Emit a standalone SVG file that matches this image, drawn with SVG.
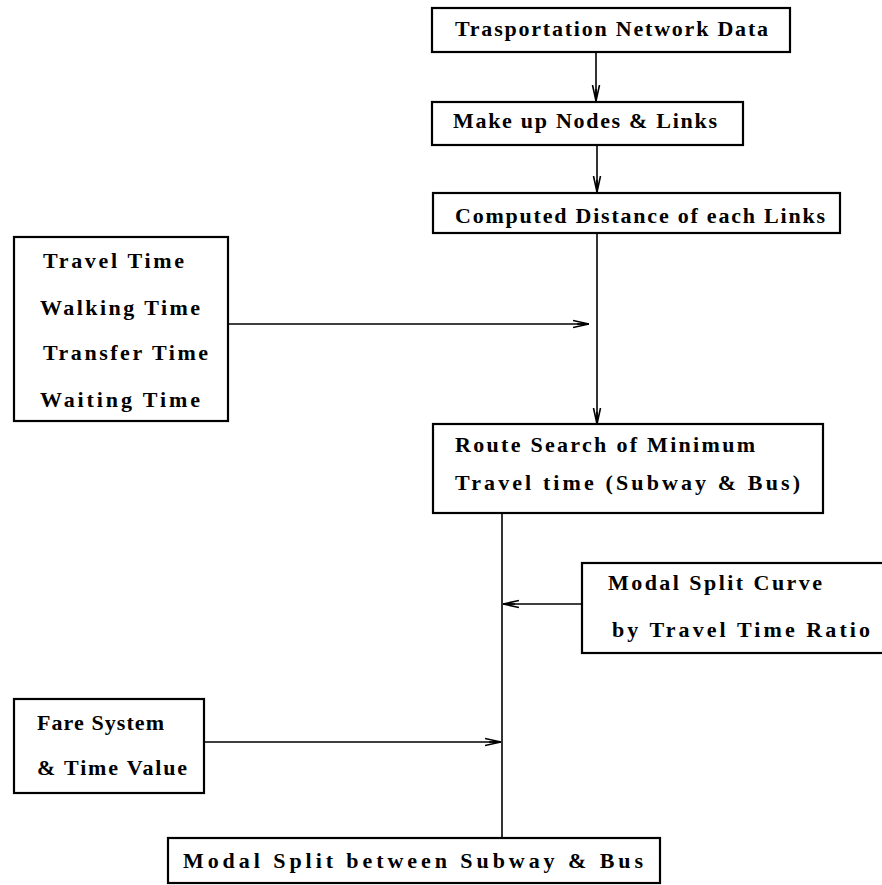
<svg xmlns="http://www.w3.org/2000/svg" width="882" height="885" viewBox="0 0 882 885">
<style>
.box{fill:#fff;stroke:#000;stroke-width:2.2}
.t{font-family:"Liberation Serif","DejaVu Serif",serif;font-weight:bold;font-size:22px;fill:#000}
.c{fill:none;stroke:#000;stroke-width:1.6}
</style>
<defs>
<marker id="ah" viewBox="0 0 16 10" refX="16" refY="5" markerWidth="16" markerHeight="10" markerUnits="userSpaceOnUse" orient="auto">
<path d="M0,1.5 L16,5 L0,8.5 M4,5 L16,5" fill="none" stroke="#000" stroke-width="1.6"/>
</marker>
</defs>
<rect width="882" height="885" fill="#fff"/>
<g id="connectors">
<line class="c" x1="596" y1="52" x2="596" y2="101" marker-end="url(#ah)"/>
<line class="c" x1="597" y1="145" x2="597" y2="192" marker-end="url(#ah)"/>
<line class="c" x1="597" y1="233" x2="597" y2="424" marker-end="url(#ah)"/>
<line class="c" x1="228" y1="324" x2="589" y2="324" marker-end="url(#ah)"/>
<line class="c" x1="502" y1="513" x2="502" y2="838"/>
<line class="c" x1="582" y1="604" x2="503" y2="604" marker-end="url(#ah)"/>
<line class="c" x1="204" y1="742" x2="501" y2="742" marker-end="url(#ah)"/>
</g>
<g id="n1">
<rect class="box" x="432" y="8" width="358" height="44"/>
<text class="t" x="455" y="36" textLength="313" lengthAdjust="spacing">Trasportation Network Data</text>
</g>
<g id="n2">
<rect class="box" x="432" y="102" width="311" height="43"/>
<text class="t" x="453" y="128" textLength="264" lengthAdjust="spacing">Make up Nodes &amp; Links</text>
</g>
<g id="n3">
<rect class="box" x="433" y="193" width="407" height="40"/>
<text class="t" x="455" y="223" textLength="370" lengthAdjust="spacing">Computed Distance of each Links</text>
</g>
<g id="n4">
<rect class="box" x="14" y="237" width="214" height="184"/>
<text class="t" x="43" y="268" textLength="141" lengthAdjust="spacing">Travel Time</text>
<text class="t" x="40" y="315" textLength="160" lengthAdjust="spacing">Walking Time</text>
<text class="t" x="43" y="360" textLength="165" lengthAdjust="spacing">Transfer Time</text>
<text class="t" x="40" y="407" textLength="160" lengthAdjust="spacing">Waiting Time</text>
</g>
<g id="n5">
<rect class="box" x="433" y="424" width="390" height="89"/>
<text class="t" x="455" y="452" textLength="300" lengthAdjust="spacing">Route Search of Minimum</text>
<text class="t" x="455" y="490" textLength="345" lengthAdjust="spacing">Travel time (Subway &amp; Bus)</text>
</g>
<g id="n6">
<rect class="box" x="582" y="563" width="320" height="90"/>
<text class="t" x="608" y="590" textLength="214" lengthAdjust="spacing">Modal Split Curve</text>
<text class="t" x="612" y="637" textLength="258" lengthAdjust="spacing">by Travel Time Ratio</text>
</g>
<g id="n7">
<rect class="box" x="14" y="699" width="190" height="94"/>
<text class="t" x="37" y="730" textLength="127" lengthAdjust="spacing">Fare System</text>
<text class="t" x="37" y="775" textLength="150" lengthAdjust="spacing">&amp; Time Value</text>
</g>
<g id="n8">
<rect class="box" x="168" y="838" width="492" height="45"/>
<text class="t" x="183" y="868" textLength="460" lengthAdjust="spacing">Modal Split between Subway &amp; Bus</text>
</g>
</svg>
